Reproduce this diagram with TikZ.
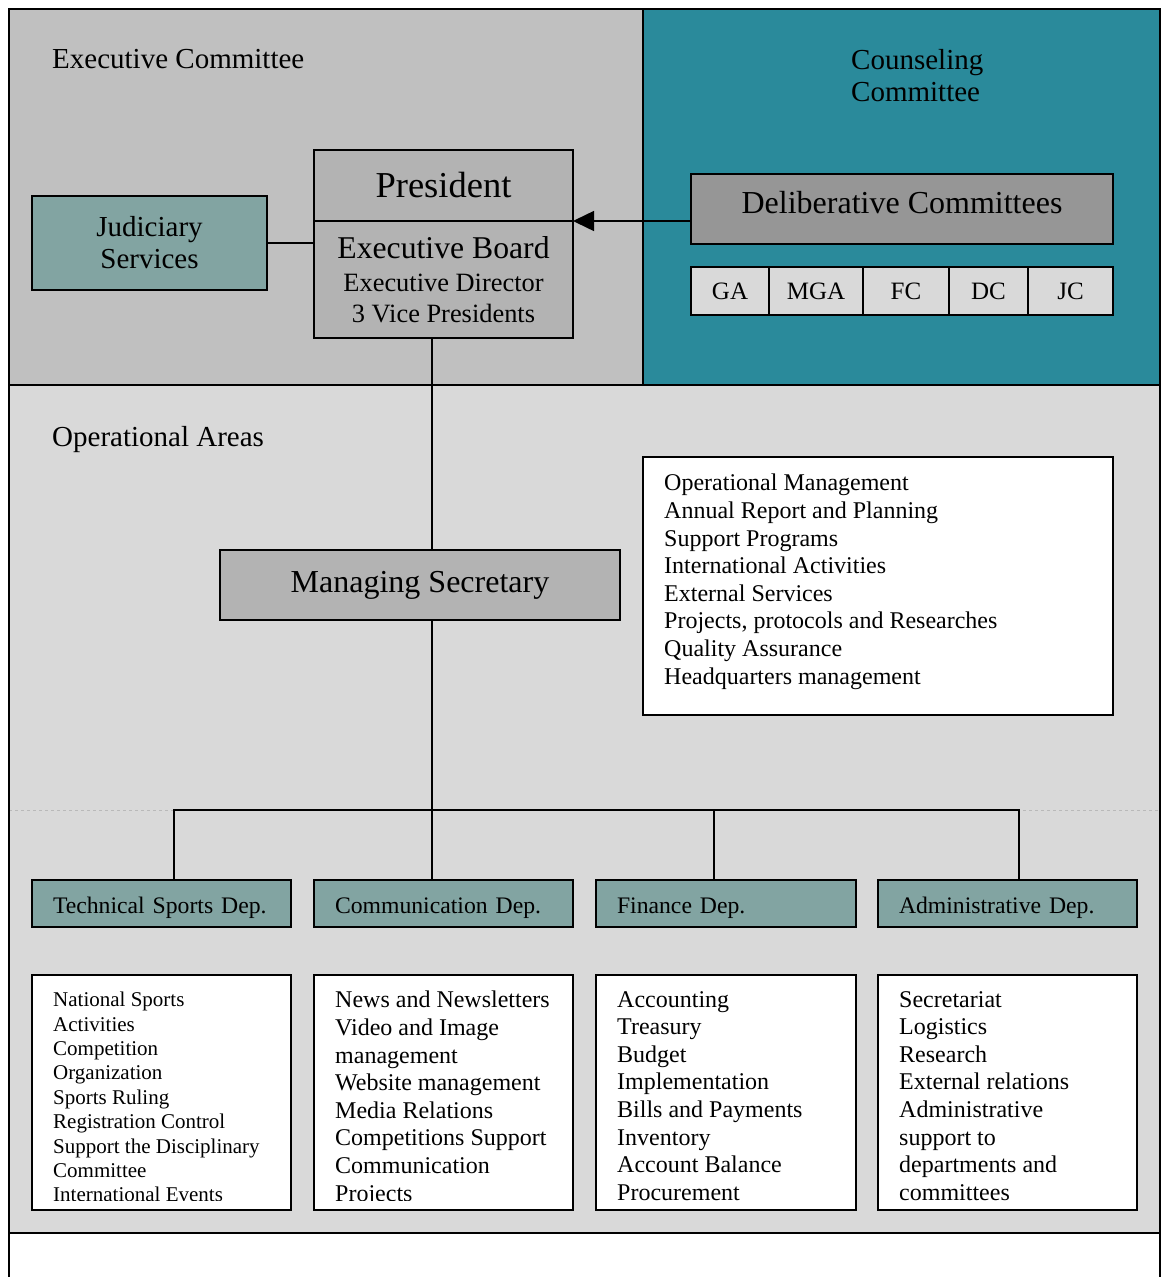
\documentclass[tikz,border=0pt]{standalone}
\usepackage{fontspec}
\setmainfont{Liberation Serif}
\usetikzlibrary{positioning,arrows.meta}

\definecolor{execgray}{HTML}{C0C0C0}
\definecolor{counselteal}{HTML}{2A8A9B}
\definecolor{opsgray}{HTML}{D9D9D9}
\definecolor{judteal}{HTML}{82A4A2}
\definecolor{officegray}{HTML}{B3B3B3}
\definecolor{delibgray}{HTML}{969696}
\newcommand{\fsz}[2]{\fontsize{#1}{#2}\selectfont}

\begin{document}
\begin{tikzpicture}[x=1pt,y=-1pt,
    unit/.style={draw,line width=1.6pt,inner sep=0pt,outer sep=0pt,align=center},
    dept/.style={unit,fill=judteal,minimum height=47pt,text width=217pt,inner xsep=21pt,align=left,text height=20pt,text depth=1pt,font=\fsz{23.7}{27.6}},
    listbox/.style={draw,line width=1.6pt,fill=white,minimum width=259pt,minimum height=235pt,outer sep=0pt},
    listtext/.style={inner sep=0pt,align=left,font=\fsz{24}{27.6}},
    cttee/.style={unit,fill=opsgray,minimum height=48pt,font=\fsz{25}{28}},
    area/.style={anchor=west,align=left,inner sep=0pt,font=\fsz{29}{32}},
    link/.style={line width=1.5pt}]
    \useasboundingbox (0,0) rectangle (1162,1277);
    % Bereiche
    \fill[execgray] (9,9) rectangle (643,385);
    \fill[counselteal] (643,9) rectangle (1160,385);
    \fill[opsgray] (9,385) rectangle (1160,1233);
    \draw[gray!55,dashed,line width=0.8pt] (9,810) -- (1160,810);
    \draw[line width=1.5pt] (643,9) -- (643,385) (9,385) -- (1160,385) (9,1233) -- (1160,1233);
    \draw[line width=2pt] (9,1277) -- (9,9) -- (1160,9) -- (1160,1277);

    \node[area] (execlbl) at (52,59) {Executive Committee};
    \node[area] (counsellbl) at (851,76) {Counseling\\Committee};
    \node[area] (opslbl) at (52,440) {Operational Areas};

    % Executive Committee
    \node[unit,fill=judteal,minimum width=235pt,minimum height=94pt,font=\fsz{29}{32}] (jud) at (149.5,243) {Judiciary\\Services};
    \node[unit,fill=officegray,minimum width=259pt,minimum height=71pt,font=\fsz{36.5}{40}] (pres) at (443.5,185.5) {President};
    \node[unit,fill=officegray,minimum width=259pt,minimum height=117pt,font=\fsz{31.7}{31}] (board) at (443.5,279.5) {Executive Board\\[2.5pt]{\fsz{26.4}{31}Executive Director}\\{\fsz{26.4}{31}3 Vice Presidents}};

    % Counseling Committee
    \node[unit,fill=delibgray,minimum width=422pt,minimum height=70pt,text height=22pt,text depth=13pt,font=\fsz{32}{35}] (delib) at (902,209) {Deliberative Committees};
    \node[cttee,minimum width=78pt] (ga) at (730,291) {GA};
    \node[cttee,minimum width=94pt,right=0pt of ga] (mga) {MGA};
    \node[cttee,minimum width=86pt,right=0pt of mga] (fc) {FC};
    \node[cttee,minimum width=79pt,right=0pt of fc] (dc) {DC};
    \node[cttee,minimum width=85pt,right=0pt of dc] (jc) {JC};

    % Operational Areas
    \node[unit,fill=officegray,minimum width=400pt,minimum height=70pt,font=\fsz{32}{35}] (mgr) at (420,585) {Managing Secretary};
    \node[listbox,minimum width=470pt,minimum height=258pt] (ops) at (878,586) {};
    \node[listtext,below right=17pt and 21pt of ops.north west] (opstext) {Operational Management\\Annual Report and Planning\\Support Programs\\International Activities\\External Services\\Projects, protocols and Researches\\Quality Assurance\\Headquarters management};
    \coordinate (hub) at (432,810);

    \node[dept] (tech) at (161.5,903.5) {Technical Sports Dep.};
    \node[dept] (comm) at (443.5,903.5) {Communication Dep.};
    \node[dept,text width=218pt] (fin) at (726,903.5) {Finance Dep.};
    \node[dept] (admin) at (1007.5,903.5) {Administrative Dep.};

    \node[listbox] (techlist) at (161.5,1092.5) {};
    \node[listbox] (commlist) at (443.5,1092.5) {};
    \node[listbox,minimum width=260pt] (finlist) at (726,1092.5) {};
    \node[listbox] (adminlist) at (1007.5,1092.5) {};
    \begin{scope}
        \clip (techlist.north west) rectangle ([yshift=10pt]techlist.south east);
        \node[listtext,font=\fsz{21}{24.4},below right=17pt and 21pt of techlist.north west] (techtext) {National Sports\\Activities\\Competition\\Organization\\Sports Ruling\\Registration Control\\Support the Disciplinary\\Committee\\International Events};
    \end{scope}
    \begin{scope}
        \clip (commlist.north west) rectangle ([yshift=10pt]commlist.south east);
        \node[listtext,below right=16pt and 21pt of commlist.north west] (commtext) {News and Newsletters\\Video and Image\\management\\Website management\\Media Relations\\Competitions Support\\Communication\\Projects};
    \end{scope}
    \begin{scope}
        \clip (finlist.north west) rectangle ([yshift=10pt]finlist.south east);
        \node[listtext,below right=16pt and 21pt of finlist.north west] (fintext) {Accounting\\Treasury\\Budget\\Implementation\\Bills and Payments\\Inventory\\Account Balance\\Procurement};
    \end{scope}
    \begin{scope}
        \clip (adminlist.north west) rectangle ([yshift=10pt]adminlist.south east);
        \node[listtext,below right=16pt and 21pt of adminlist.north west] (admintext) {Secretariat\\Logistics\\Research\\External relations\\Administrative\\support to\\departments and\\committees};
    \end{scope}

    % Verbindungen
    \draw[link] (jud.east) -- (jud.east -| board.west);
    \draw[link,-{Triangle[length=21pt,width=20pt]}] (pres.south east -| delib.west) -- (pres.south east);
    \draw[link] (board.south -| hub) -- (mgr.north -| hub);
    \draw[link] (mgr.south -| hub) -- (hub);
    \draw[link] ([xshift=12.5pt]tech.north) |- (hub) -| ([xshift=11.5pt]admin.north);
    \draw[link] (hub) -- (hub |- comm.north);
    \draw[link] ([xshift=-12pt]fin.north) -- ([xshift=-12pt]fin.north |- hub);
\end{tikzpicture}
\end{document}
